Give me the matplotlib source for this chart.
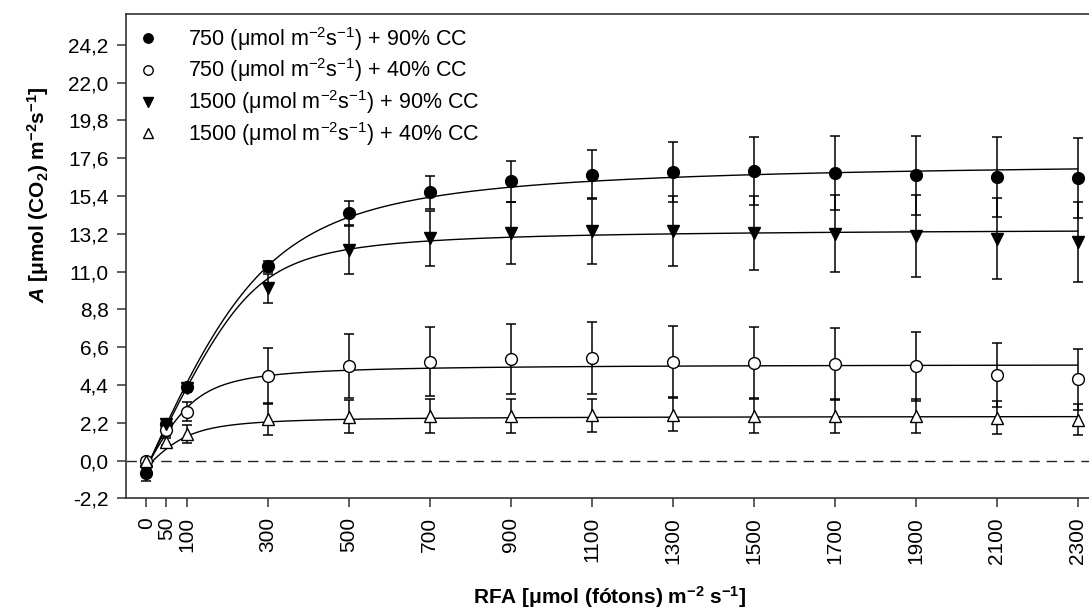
import numpy as np
import matplotlib
matplotlib.use("Agg")
from matplotlib import pyplot as plt

plt.rcParams['font.family'] = ['Liberation Sans', 'DejaVu Sans']
plt.rcParams['mathtext.fontset'] = 'custom'
plt.rcParams['mathtext.rm'] = 'Liberation Sans'
plt.rcParams['mathtext.it'] = 'Liberation Sans:italic:bold'
plt.rcParams['mathtext.bf'] = 'Liberation Sans:bold'
plt.rcParams['mathtext.default'] = 'regular'

# light levels (RFA)
rfa = [0, 50, 100, 300, 500, 700, 900, 1100, 1300, 1500, 1700, 1900, 2100, 2300]

# mean A and error for each treatment
a_750_90 = [-0.7, 2.1, 4.3, 11.3, 14.4, 15.62, 16.26, 16.65, 16.8, 16.85, 16.73, 16.61, 16.51, 16.44]
e_750_90 = [0.5, 0.2, 0.2, 0.32, 0.7, 0.97, 1.18, 1.45, 1.75, 1.98, 2.17, 2.3, 2.35, 2.33]
a_750_40 = [-0.05, 1.75, 2.85, 4.93, 5.51, 5.76, 5.9, 5.96, 5.76, 5.7, 5.63, 5.49, 4.97, 4.72]
e_750_40 = [0.2, 0.3, 0.55, 1.6, 1.87, 2.0, 2.04, 2.1, 2.08, 2.08, 2.09, 2.02, 1.86, 1.78]
a_1500_90 = [-0.6, 2.1, 4.2, 10.03, 12.26, 12.94, 13.27, 13.37, 13.37, 13.24, 13.21, 13.08, 12.92, 12.75]
e_1500_90 = [0.3, 0.2, 0.2, 0.83, 1.4, 1.6, 1.8, 1.92, 2.04, 2.14, 2.23, 2.37, 2.34, 2.33]
a_1500_40 = [-0.05, 1.1, 1.54, 2.41, 2.56, 2.6, 2.6, 2.64, 2.66, 2.62, 2.62, 2.62, 2.5, 2.37]
e_1500_40 = [0.2, 0.2, 0.5, 0.91, 0.95, 0.97, 0.97, 0.97, 0.97, 0.99, 0.99, 0.99, 0.95, 0.91]

# non-rectangular hyperbola fit params (phi, theta, Amax, Rd) per treatment
fit_750_90 = [0.05374, 0.8089, 18.0252, 0.4959]
fit_750_40 = [0.04330, 0.8173, 6.0232, 0.3998]
fit_1500_90 = [0.04914, 0.9110, 13.9944, 0.4667]
fit_1500_40 = [0.02448, 0.7668, 2.9941, 0.4008]

labels = ['750 (μmol m$^{-2}$s$^{-1}$) + 90% CC',
          '750 (μmol m$^{-2}$s$^{-1}$) + 40% CC',
          '1500 (μmol m$^{-2}$s$^{-1}$) + 90% CC',
          '1500 (μmol m$^{-2}$s$^{-1}$) + 40% CC']


def nrh(I, phi, theta, pm, rd):
    b = phi * I + pm
    return (b - np.sqrt(np.maximum(b * b - 4 * theta * phi * I * pm, 0))) / (2 * theta) - rd


fig = plt.figure(figsize=(10.89, 6.13), dpi=100)
ax = fig.add_axes([126 / 1089, 1 - 498.3 / 613, (1118 - 126) / 1089, (498.3 - 14) / 613])

ax.axhline(0, color='#222222', lw=1.0, ls=(0, (7.5, 5)), zorder=1)

xs = np.linspace(0, 2300, 400)
for p in [fit_750_90, fit_750_40, fit_1500_90, fit_1500_40]:
    ax.plot(xs, nrh(xs, *p), color='black', lw=1.0, zorder=2)

series = [
    (a_750_90, e_750_90, 'o', 'black'),
    (a_750_40, e_750_40, 'o', 'white'),
    (a_1500_90, e_1500_90, 'v', 'black'),
    (a_1500_40, e_1500_40, '^', 'white'),
]
for (vals, errs, m, fc), lab in zip(series, labels):
    ax.errorbar(rfa, vals, yerr=errs, fmt='none', ecolor='black', elinewidth=1.1,
                capsize=3.8, capthick=1.1, zorder=3)
    ax.plot(rfa, vals, ls='none', marker=m, ms=8.5, mfc=fc, mec='black', mew=1.0,
            zorder=4, label=lab)

ax.set_xlim(-50, 2400)
ax.set_ylim(-2.2, 26.0)
ax.set_xticks(rfa)
ax.set_xticklabels([str(v) for v in rfa], rotation=90, fontsize=15)
yt = [-2.2, 0.0, 2.2, 4.4, 6.6, 8.8, 11.0, 13.2, 15.4, 17.6, 19.8, 22.0, 24.2]
ax.set_yticks(yt)
ax.set_yticklabels([('%.1f' % v).replace('.', ',') for v in yt], fontsize=15)
ax.tick_params(direction='out', length=6.5, width=1.1, color='#333333', pad=6)
ax.tick_params(axis='x', pad=7)
for s in ax.spines.values():
    s.set_color('#333333')
    s.set_linewidth(1.2)

ax.set_xlabel('RFA [μmol (fótons) m$^{\\mathbf{-2}}$ s$^{\\mathbf{-1}}$]', fontsize=15,
              fontweight='bold', va='center')
ax.xaxis.set_label_coords((610 - 126) / (1118 - 126), -(597 - 498.3) / 484.3)
ax.set_ylabel('$\\mathit{A}$ [μmol (CO$_{\\mathbf{2}}$) m$^{\\mathbf{-2}}$s$^{\\mathbf{-1}}$]',
              fontsize=15, fontweight='bold', va='center')
ax.yaxis.set_label_coords(-(126 - 38) / 992, (498.3 - 195) / 484.3)

ax.legend(loc='upper left', frameon=False, fontsize=15.5, handletextpad=1.4,
          labelspacing=0.18, borderaxespad=0.1, handlelength=1.0, markerscale=0.8)

fig.savefig('out.png', dpi=100)
